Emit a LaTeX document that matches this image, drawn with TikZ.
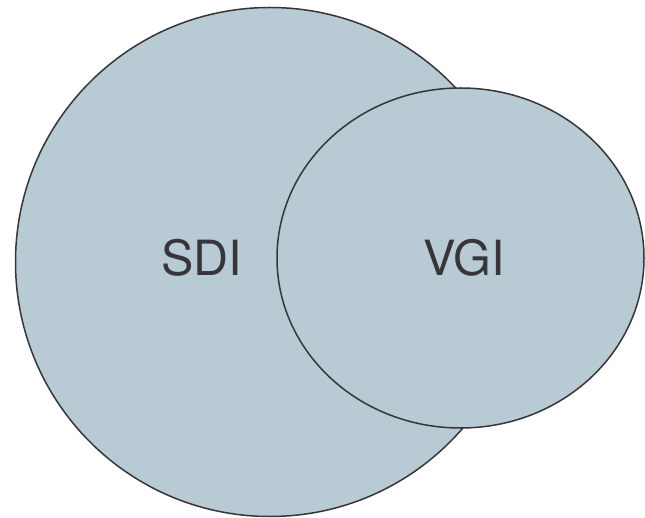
\documentclass[tikz,border=0pt]{standalone}
\usepackage{fontspec}
\setmainfont{TeX Gyre Heros}
\usetikzlibrary{shapes.geometric}
\definecolor{setfill}{HTML}{B8CAD4}
\definecolor{setline}{HTML}{36363A}
\begin{document}
\begin{tikzpicture}[x=1pt,y=-1pt,
  setshape/.style={fill=setfill,draw=setline,line width=1.5pt,inner sep=0pt},
  setlabel/.style={text=setline,font=\fontsize{48.5}{58}\selectfont,inner sep=0pt,anchor=center}]
\useasboundingbox (0,0) rectangle (645,518);
\node[setshape,circle,minimum size=509pt] (sdi) at (270,262) {};
\node[setshape,ellipse,minimum width=367pt,minimum height=340pt] (vgi) at (460.5,258) {};
\node[setlabel] (sdit) at (202,258) {SDI};
\node[setlabel] (vgit) at (464,258) {VGI};
\end{tikzpicture}
\end{document}
